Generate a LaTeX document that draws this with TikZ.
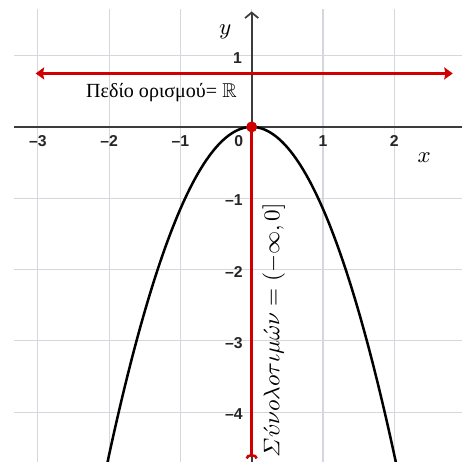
\documentclass[tikz,border=0pt]{standalone}
\usepackage{amsmath,amssymb}
\usepackage{fontspec}
\setmainfont{Liberation Serif}
\newfontfamily\ticksf{Liberation Sans}
\usetikzlibrary{arrows.meta}
\definecolor{gridgray}{RGB}{214,214,220}
\definecolor{axisgray}{RGB}{60,60,60}
\definecolor{myred}{RGB}{208,0,0}
\begin{document}
\begin{tikzpicture}[x=1cm,y=1cm,
  gridline/.style={draw=gridgray, line width=0.45pt},
  axisline/.style={draw=axisgray, line width=0.7pt},
  ticklab/.style={font=\ticksf\bfseries\fontsize{6.3}{7}\selectfont, text=black!85, inner sep=0pt},
  redline/.style={draw=myred, line width=1pt},
  curvestyle/.style={draw=black, line width=1pt},
  reddot/.style={circle, fill=myred, inner sep=0pt, minimum size=0.15cm}]
\useasboundingbox (-3.53,-4.686) rectangle (2.95,1.78);
\begin{scope}
\clip (-3.53,-4.686) rectangle (2.95,1.78);
\foreach \x in {-3,...,2} \draw[gridline] (\x,-4.8) -- (\x,1.66);
\foreach \y in {-4,...,1} \draw[gridline] (-3.33,\y) -- (3,\y);
% axes
\coordinate (xl) at (-3.33,0);
\coordinate (xr) at (3.1,0);
\coordinate (yb) at (0,-4.8);
\coordinate (yt) at (0,1.62);
\draw[axisline] (xl) -- (xr);
\draw[axisline, -{Straight Barb[length=2.2pt,width=5.3pt]}] (yb) -- (yt);
% parabola
\draw[curvestyle] plot[domain=-2.1:2.1, samples=120, smooth] (\x,{-1.15*\x*\x});
% domain arrow
\coordinate (dl) at (-3.03,0.75);
\coordinate (dr) at (2.82,0.75);
\draw[redline, {Stealth[length=3.4pt,width=4.8pt,inset=0.5pt]}-{Stealth[length=3.4pt,width=4.8pt,inset=0.5pt]}] (dl) -- (dr);
% range line
\node[reddot] (O) at (0,0) {};
\coordinate (rb) at (0,-4.65);
\draw[redline, -{Arc Barb[reversed,length=1.8pt,width=5pt]}] (O.center) -- (rb);
\node[reddot] at (0,0) {};
\end{scope}
% tick labels
\node[ticklab] (xtm3) at (-3,-0.2) {–3};
\node[ticklab] (xtm2) at (-2,-0.2) {–2};
\node[ticklab] (xtm1) at (-1,-0.2) {–1};
\node[ticklab] (xt0) at (-0.18,-0.2) {0};
\node[ticklab] (xt1) at (1,-0.2) {1};
\node[ticklab] (xt2) at (2,-0.2) {2};
\node[ticklab, anchor=east] (yt1) at (-0.13,0.97) {1};
\node[ticklab, anchor=east] (ytm1) at (-0.12,-1.03) {–1};
\node[ticklab, anchor=east] (ytm2) at (-0.12,-2.03) {–2};
\node[ticklab, anchor=east] (ytm3) at (-0.12,-3.03) {–3};
\node[ticklab, anchor=east] (ytm4) at (-0.12,-4.03) {–4};
% axis labels
\node[font=\fontsize{9}{10}\selectfont] (ylab) at (-0.37,1.34) {$y$};
\node[font=\fontsize{9}{10}\selectfont] (xlab) at (2.42,-0.43) {$x$};
% texts
\node[font=\fontsize{8}{9}\selectfont, inner sep=0pt] (dom) at (-1.265,0.48) {Πεδίο ορισμού= $\mathbb{R}$};
\node[rotate=90, font=\fontsize{9.2}{11}\selectfont, inner sep=0pt] (rng) at (0.31,-2.85) {$\varSigma\acute{\upsilon}\nu o\lambda o\tau\iota\mu\acute{\omega}\nu=(-\infty,0]$};
\end{tikzpicture}
\end{document}
